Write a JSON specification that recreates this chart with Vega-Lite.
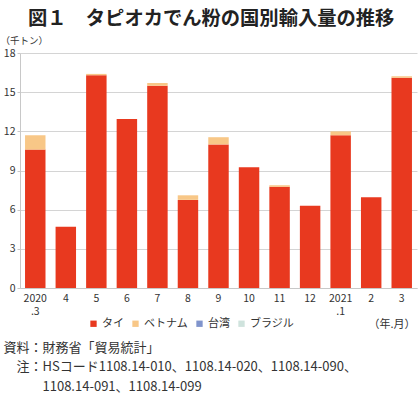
{
  "$schema": "https://vega.github.io/schema/vega-lite/v6.json",
  "width": 397,
  "height": 235,
  "autosize": {"type": "none"},
  "padding": {"left": 20, "top": 53, "right": 3, "bottom": 106},
  "background": "white",
  "config": {
    "font": "Noto Sans CJK JP",
    "view": {"stroke": null},
    "axis": {"labelFont": "Noto Sans CJK JP", "titleFont": "Noto Sans CJK JP", "labelColor": "#333", "titleColor": "#333"}
  },
  "title": {
    "text": "図１　タピオカでん粉の国別輸入量の推移",
    "anchor": "start",
    "frame": "group",
    "dx": 8,
    "offset": 6,
    "fontSize": 19.3,
    "fontWeight": "bold",
    "color": "#222"
  },
  "data": {
    "values": [
      {"m": "2020|.3", "c": "タイ", "o": 1, "v": 10.6},
      {"m": "2020|.3", "c": "ベトナム", "o": 2, "v": 1.1},
      {"m": "4", "c": "タイ", "o": 1, "v": 4.7},
      {"m": "4", "c": "ベトナム", "o": 2, "v": 0},
      {"m": "5", "c": "タイ", "o": 1, "v": 16.3},
      {"m": "5", "c": "ベトナム", "o": 2, "v": 0.1},
      {"m": "6", "c": "タイ", "o": 1, "v": 12.95},
      {"m": "6", "c": "ベトナム", "o": 2, "v": 0},
      {"m": "7", "c": "タイ", "o": 1, "v": 15.5},
      {"m": "7", "c": "ベトナム", "o": 2, "v": 0.2},
      {"m": "8", "c": "タイ", "o": 1, "v": 6.75},
      {"m": "8", "c": "ベトナム", "o": 2, "v": 0.35},
      {"m": "9", "c": "タイ", "o": 1, "v": 11.0},
      {"m": "9", "c": "ベトナム", "o": 2, "v": 0.55},
      {"m": "10", "c": "タイ", "o": 1, "v": 9.25},
      {"m": "10", "c": "ベトナム", "o": 2, "v": 0},
      {"m": "11", "c": "タイ", "o": 1, "v": 7.75},
      {"m": "11", "c": "ベトナム", "o": 2, "v": 0.12},
      {"m": "12", "c": "タイ", "o": 1, "v": 6.3},
      {"m": "12", "c": "ベトナム", "o": 2, "v": 0},
      {"m": "2021|.1", "c": "タイ", "o": 1, "v": 11.7},
      {"m": "2021|.1", "c": "ベトナム", "o": 2, "v": 0.3},
      {"m": "2", "c": "タイ", "o": 1, "v": 6.95},
      {"m": "2", "c": "ベトナム", "o": 2, "v": 0},
      {"m": "3", "c": "タイ", "o": 1, "v": 16.1},
      {"m": "3", "c": "ベトナム", "o": 2, "v": 0.12}
    ]
  },
  "layer": [
    {
      "mark": {"type": "bar"},
      "encoding": {
        "x": {
          "field": "m",
          "type": "nominal",
          "sort": null,
          "scale": {"paddingInner": 0.33, "paddingOuter": 0.165},
          "axis": {
            "labelAngle": 0,
            "labelExpr": "split(datum.label, '|')",
            "labelFontSize": 10.5,
            "labelPadding": 5,
            "labelLineHeight": 13,
            "ticks": false,
            "domainColor": "#c8c8c8",
            "title": "（年.月）",
            "titleFontSize": 11,
            "titleFontWeight": "normal",
            "titleX": 395,
            "titleY": 36,
            "titleAlign": "right",
            "titleBaseline": "middle",
            "titleAnchor": null
          }
        },
        "y": {
          "field": "v",
          "type": "quantitative",
          "stack": "zero",
          "scale": {"domain": [0, 18], "nice": false},
          "axis": {
            "values": [0, 3, 6, 9, 12, 15, 18],
            "gridColor": "#d4d4d4",
            "domainColor": "#c8c8c8",
            "tickColor": "#c8c8c8",
            "tickSize": 3,
            "labelPadding": 2,
            "labelFontSize": 10.5,
            "title": "（千トン）",
            "titleAngle": 0,
            "titleFontSize": 9.5,
            "titleFontWeight": "normal",
            "titleAlign": "left",
            "titleBaseline": "middle",
            "titleX": -20,
            "titleY": -13
          }
        },
        "color": {
          "field": "c",
          "type": "nominal",
          "scale": {
            "domain": ["タイ", "ベトナム", "台湾", "ブラジル"],
            "range": ["#e8391f", "#f8c787", "#8094cc", "#cfe3dd"]
          },
          "legend": {
            "orient": "none",
            "legendX": 68,
            "legendY": 265,
            "direction": "horizontal",
            "columns": 4,
            "columnPadding": 6,
            "title": null,
            "symbolType": "square",
            "symbolSize": 40,
            "symbolStrokeWidth": 0,
            "labelOffset": 3,
            "labelFontSize": 11,
            "labelColor": "#333",
            "labelFont": "Noto Sans CJK JP"
          }
        },
        "order": {"field": "o", "type": "quantitative"}
      }
    },
    {
      "mark": {"type": "bar", "opacity": 0},
      "encoding": {
        "x": {"field": "m", "type": "nominal", "sort": null},
        "y": {
          "field": "v",
          "type": "quantitative",
          "stack": null,
          "axis": {
            "orient": "right",
            "labels": false,
            "ticks": false,
            "domain": false,
            "grid": false,
            "title": ["資料：財務省「貿易統計」", "\u200b　注：HSコード1108.14-010、1108.14-020、1108.14-090、", "\u200b　　　1108.14-091、1108.14-099"],
            "titleAngle": 0,
            "titleFontSize": 13,
            "titleFontWeight": "normal",
            "titleLineHeight": 19.5,
            "titleAlign": "left",
            "titleBaseline": "top",
            "titleX": -414,
            "titleY": 288
          }
        }
      }
    }
  ],
  "resolve": {"axis": {"y": "independent"}}
}
